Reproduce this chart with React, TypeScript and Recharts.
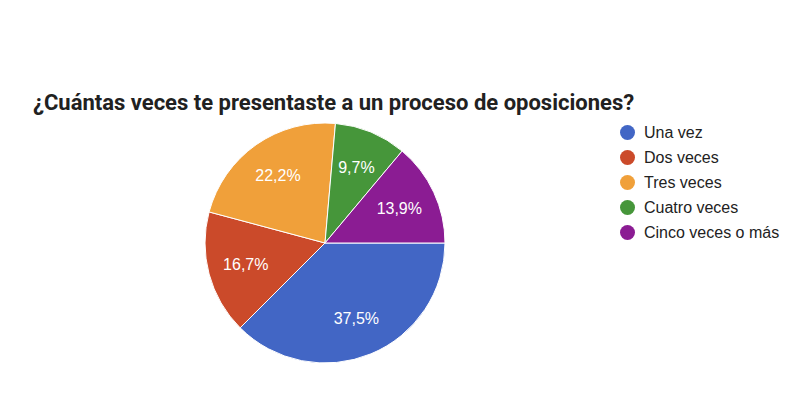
import { PieChart, Pie, Cell, Legend } from "recharts";

const categories = ["Una vez", "Dos veces", "Tres veces", "Cuatro veces", "Cinco veces o más"];
const counts = [27, 12, 16, 7, 10];
const colors = ["#4266c5", "#cb4a2a", "#f0a03a", "#46963a", "#8b1c93"];
const title = "¿Cuántas veces te presentaste a un proceso de oposiciones?";

const data = categories.map((name, i) => ({ name, value: counts[i] }));
const total = counts.reduce((a, b) => a + b, 0);

const RAD = Math.PI / 180;

const SliceLabel = ({ cx, cy, midAngle, value }: any) => {
  const r = 82;
  const x = cx + r * Math.cos(-midAngle * RAD);
  const y = cy + r * Math.sin(-midAngle * RAD);
  const pct = ((value / total) * 100).toFixed(1).replace(".", ",") + "%";
  return (
    <text
      x={x}
      y={y}
      fill="#fff"
      textAnchor="middle"
      dominantBaseline="central"
      fontFamily="Liberation Sans, Arial, sans-serif"
      fontSize={16}
    >
      {pct}
    </text>
  );
};

const LegendContent = () => (
  <div style={{ fontFamily: "Liberation Sans, Arial, sans-serif", fontSize: 16, color: "#222" }}>
    {categories.map((c, i) => (
      <div key={c} style={{ display: "flex", alignItems: "center", height: 25 }}>
        <span
          style={{
            width: 15,
            height: 15,
            borderRadius: "50%",
            background: colors[i],
            display: "inline-block",
            marginRight: 9,
          }}
        />
        <span>{c}</span>
      </div>
    ))}
  </div>
);

export default function App() {
  return (
    <div style={{ position: "absolute", left: 0, top: 0, width: 788, height: 394, background: "#fff" }}>
      <div
        style={{
          position: "absolute",
          left: 33,
          top: 92,
          fontFamily: "Roboto, sans-serif",
          fontWeight: 700,
          fontSize: 22,
          lineHeight: "22px",
          color: "#212121",
          whiteSpace: "nowrap",
        }}
      >
        {title}
      </div>
      <PieChart
        width={788}
        height={394}
        margin={{ top: 0, right: 0, bottom: 0, left: 0 }}
        style={{ position: "absolute", left: 0, top: 0 }}
      >
        <Pie
          data={data}
          dataKey="value"
          nameKey="name"
          cx={325}
          cy={243}
          outerRadius={120}
          startAngle={0}
          endAngle={-360}
          stroke="#fff"
          strokeWidth={1}
          label={SliceLabel}
          labelLine={false}
          isAnimationActive={false}
        >
          {data.map((d, i) => (
            <Cell key={d.name} fill={colors[i]} />
          ))}
        </Pie>
        <Legend
          layout="vertical"
          align="right"
          verticalAlign="top"
          content={<LegendContent />}
          wrapperStyle={{ left: 620, top: 120, width: 168 }}
        />
      </PieChart>
    </div>
  );
}
